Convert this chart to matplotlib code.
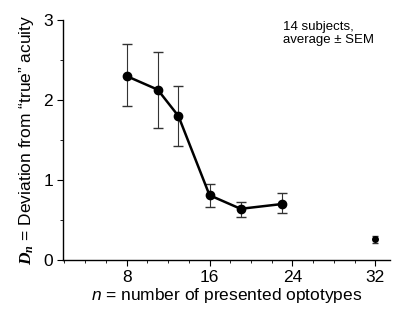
import matplotlib
matplotlib.use("Agg")
import matplotlib.pyplot as plt
from matplotlib.ticker import MultipleLocator

n_values = [8, 11, 13, 16, 19, 23]
d_values = [2.30, 2.13, 1.80, 0.81, 0.64, 0.70]
err_low = [0.37, 0.48, 0.37, 0.15, 0.10, 0.11]
err_high = [0.40, 0.47, 0.38, 0.14, 0.09, 0.14]

n_extra = [32]
d_extra = [0.26]
err_extra_low = [0.05]
err_extra_high = [0.04]

x_ticks = [8, 16, 24, 32]
y_ticks = [0, 1, 2, 3]

plt.rcParams['font.family'] = ['Liberation Sans', 'DejaVu Sans']
plt.rcParams['mathtext.fontset'] = 'custom'
plt.rcParams['mathtext.it'] = 'Liberation Sans:italic'
plt.rcParams['mathtext.rm'] = 'Liberation Sans'
plt.rcParams['mathtext.bf'] = 'Liberation Serif:italic:bold'

fig = plt.figure(figsize=(3.93, 3.14), dpi=100)
ax = fig.add_axes([0.160, 0.172, 0.832, 0.764])

ax.errorbar(n_values, d_values, yerr=[err_low, err_high], fmt='-o', color='black',
            lw=1.8, ms=6, elinewidth=0.8, capsize=3.5, capthick=1.0, ecolor='#333333')
ax.errorbar(n_extra, d_extra, yerr=[err_extra_low, err_extra_high], fmt='o', color='black',
            ms=4, elinewidth=0.8, capsize=2.5, capthick=1.0, ecolor='#333333')

ax.set_xlim(1.85, 33.4)
ax.set_ylim(0, 3)
ax.set_xticks(x_ticks)
ax.set_yticks(y_ticks)
ax.xaxis.set_minor_locator(MultipleLocator(2))
ax.yaxis.set_minor_locator(MultipleLocator(0.5))
ax.tick_params(which='major', direction='out', length=4, width=0.8, labelsize=12.5, pad=3)
ax.tick_params(which='minor', direction='out', length=2.5, width=0.6)
for s in ['top', 'right']:
    ax.spines[s].set_visible(False)
for s in ['left', 'bottom']:
    ax.spines[s].set_linewidth(1.0)

ax.set_xlabel(r'$\mathit{n}$ = number of presented optotypes', fontsize=12.5, labelpad=1)
ax.set_ylabel(r'$\mathbf{D_n}$ = Deviation from “true” acuity', fontsize=12.5, labelpad=5)

ax.text(0.673, 0.995, '14 subjects,\naverage ± SEM', transform=ax.transAxes,
        fontsize=9.5, va='top', ha='left', linespacing=1.05)

fig.savefig('out.png', dpi=100)
